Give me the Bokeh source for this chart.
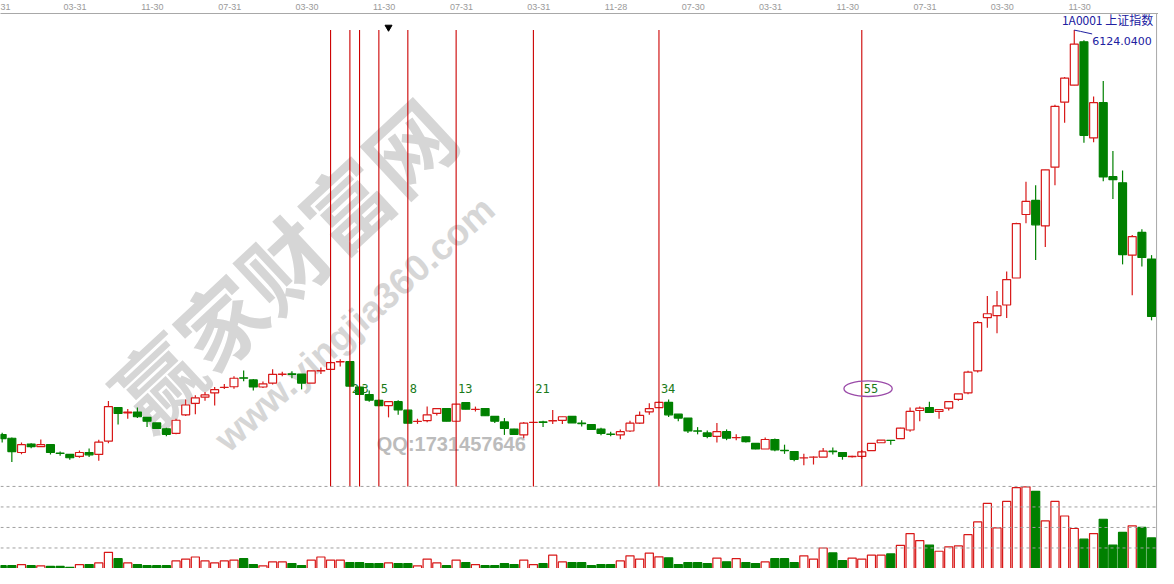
from bokeh.plotting import figure
from bokeh.models import Range1d, LinearAxis, FixedTicker, Span, ColumnDataSource
from bokeh.core.properties import value
from bokeh.embed import file_html
from bokeh.resources import INLINE

# ---------------- data (monthly, Jul 1998 .. Jun 2008) ----------------
opens = [1355, 1312, 1144, 1243, 1213, 1236, 1136, 1121, 1098, 1144,
         1121, 1277, 1674, 1611, 1620, 1558, 1493, 1424, 1370, 1588,
         1723, 1796, 1846, 1910, 1919, 2025, 2000, 1916, 1962, 2065,
         2071, 2069, 1962, 2106, 2123, 2213, 2215, 1916, 1827, 1758,
         1697, 1743, 1643, 1510, 1519, 1605, 1662, 1512, 1731, 1652,
         1662, 1570, 1504, 1420, 1351, 1498, 1504, 1515, 1523, 1570,
         1489, 1473, 1420, 1360, 1351, 1397, 1489, 1623, 1674, 1735,
         1596, 1550, 1398, 1374, 1335, 1389, 1318, 1328, 1251, 1185,
         1297, 1170, 1155, 1081, 1088, 1090, 1159, 1144, 1095, 1098,
         1166, 1259, 1288, 1308, 1409, 1639, 1674, 1628, 1666, 1769,
         1846, 2107, 2733, 2757, 2883, 3201, 3950, 4116, 3816, 4508,
         5275, 5475, 5986, 4853, 5268, 4396, 4323, 3471, 3739, 3425]

closes = [1308, 1155, 1236, 1213, 1236, 1144, 1132, 1082, 1144, 1116,
          1266, 1685, 1605, 1620, 1565, 1512, 1427, 1358, 1524, 1704,
          1789, 1823, 1884, 1913, 2019, 2019, 1916, 1954, 2065, 2069,
          2065, 1962, 2107, 2109, 2204, 2215, 1927, 1830, 1761, 1697,
          1743, 1646, 1489, 1512, 1588, 1662, 1512, 1715, 1654, 1654,
          1577, 1512, 1427, 1358, 1489, 1500, 1500, 1519, 1565, 1493,
          1485, 1416, 1370, 1358, 1389, 1489, 1581, 1662, 1735, 1588,
          1550, 1397, 1395, 1335, 1389, 1312, 1320, 1271, 1185, 1297,
          1174, 1167, 1063, 1082, 1090, 1159, 1155, 1098, 1098, 1151,
          1251, 1289, 1286, 1431, 1628, 1666, 1616, 1651, 1743, 1835,
          2092, 2676, 2780, 2872, 3183, 3843, 4104, 3828, 4477, 5225,
          5559, 5959, 4883, 5268, 4392, 4361, 3478, 3690, 3443, 2748]

highs = [1378, 1320, 1262, 1254, 1297, 1239, 1155, 1121, 1167, 1190,
         1294, 1750, 1677, 1658, 1674, 1558, 1493, 1435, 1542, 1769,
         1819, 1858, 1916, 1950, 2042, 2111, 2011, 1980, 2126, 2095,
         2103, 2069, 2107, 2146, 2222, 2242, 2218, 1931, 1876, 1769,
         1746, 1761, 1643, 1542, 1685, 1666, 1666, 1715, 1735, 1685,
         1666, 1573, 1550, 1424, 1504, 1504, 1519, 1646, 1565, 1570,
         1524, 1481, 1435, 1389, 1416, 1519, 1627, 1723, 1746, 1769,
         1596, 1550, 1443, 1404, 1493, 1416, 1358, 1331, 1251, 1320,
         1308, 1236, 1159, 1128, 1098, 1197, 1202, 1147, 1106, 1174,
         1251, 1289, 1289, 1435, 1674, 1685, 1743, 1654, 1743, 1835,
         2107, 2694, 2990, 3048, 3278, 3854, 4335, 4296, 4477, 5245,
         5571, 6124, 6005, 5341, 5525, 4699, 4468, 3708, 3777, 3471]

lows = [1262, 1032, 1124, 1193, 1213, 1121, 1105, 1059, 1082, 1090,
        1047, 1254, 1473, 1542, 1550, 1443, 1424, 1335, 1358, 1573,
        1596, 1754, 1697, 1893, 1896, 1985, 1876, 1904, 1946, 2042,
        2019, 1888, 1962, 2069, 2123, 2157, 1919, 1827, 1743, 1689,
        1558, 1588, 1489, 1481, 1500, 1581, 1512, 1512, 1654, 1627,
        1573, 1493, 1351, 1354, 1312, 1493, 1443, 1481, 1481, 1493,
        1450, 1412, 1347, 1335, 1301, 1385, 1481, 1588, 1674, 1562,
        1512, 1374, 1358, 1312, 1262, 1289, 1289, 1262, 1182, 1185,
        1159, 1128, 1040, 994, 1002, 1090, 1121, 1059, 1085, 1070,
        1166, 1259, 1236, 1308, 1389, 1512, 1616, 1542, 1639, 1754,
        1830, 2088, 2614, 2549, 2729, 3201, 3846, 3413, 3566, 4296,
        5033, 5475, 4796, 4803, 4342, 4134, 3362, 2998, 3336, 2702]

volumes = [14, 14, 19, 14, 13, 10, 10, 5, 19, 19,
           27, 79, 48, 27, 19, 14, 14, 14, 37, 46,
           56, 37, 27, 37, 41, 48, 19, 13, 32, 32,
           24, 14, 41, 56, 41, 41, 29, 29, 24, 24,
           27, 24, 24, 13, 46, 27, 14, 41, 29, 19,
           14, 14, 24, 19, 41, 19, 24, 65, 32, 29,
           29, 14, 19, 19, 37, 62, 46, 75, 57, 52,
           19, 29, 29, 24, 51, 33, 48, 29, 24, 32,
           48, 48, 29, 62, 46, 100, 76, 38, 51, 46,
           65, 65, 71, 113, 170, 136, 114, 84, 105, 110,
           165, 227, 317, 198, 327, 394, 398, 376, 232, 327,
           256, 195, 143, 170, 240, 114, 176, 208, 200, 149]

# first label is cut at the left edge in the original, only "31" shows
axis_months = [0.35, 8, 16, 24, 32, 40, 48, 56, 64, 72, 80, 88, 96, 104, 112]
axis_labels = ["31", "03-31", "11-30", "07-31", "03-30", "11-30", "07-31",
               "03-31", "11-28", "07-30", "03-31", "11-30", "07-31", "03-30", "11-30"]

fib_base = 34                      # May 2001
fib_steps = [0, 2, 3, 5, 8, 13, 21, 34, 55]
fib_labels = ["2", "3", "5", "8", "13", "21", "34", "55"]

vol_grid = [100, 200, 300, 400]
peak_value = "6124.0400"
title_text = "1A0001  上证指数"

# ---------------- styling ----------------
RED = "#d81818"
GREEN = "#008000"
W, H = 1158, 568
X_START, X_END = -0.174, 119.72

n = len(opens)
idx = list(range(n))
up = [c >= o for o, c in zip(opens, closes)]
src = ColumnDataSource(dict(
    x=idx,
    high=highs,
    low=lows,
    top=[max(o, c) for o, c in zip(opens, closes)],
    bot=[min(o, c) for o, c in zip(opens, closes)],
    vol=volumes,
    col=[RED if u else GREEN for u in up],
    fill=["white" if u else GREEN for u in up],
))

p = figure(width=W, height=H, output_backend="svg", toolbar_location=None,
           x_axis_type=None, y_axis_type=None,
           x_range=Range1d(X_START, X_END), y_range=Range1d(-224, 6320),
           min_border=0, background_fill_color="white", border_fill_color="white")
p.outline_line_color = None
p.extra_y_ranges = {"vol": Range1d(0, 2705)}

# top date axis (labels sit at the left edge of each month's candle)
ticks = [m if m < 1 else m - 0.45 for m in axis_months]
top_axis = LinearAxis(ticker=FixedTicker(ticks=ticks),
                      major_label_overrides={t: l for t, l in zip(ticks, axis_labels)})
top_axis.major_tick_line_color = None
top_axis.minor_tick_line_color = None
top_axis.major_tick_out = 0
top_axis.major_tick_in = 0
top_axis.major_label_standoff = 4
top_axis.axis_line_color = "#a8a8a8"
top_axis.major_label_text_color = "#9a9a9a"
top_axis.major_label_text_font = "Liberation Sans"
top_axis.major_label_text_font_size = "9px"
p.add_layout(top_axis, "above")

# watermark
p.text(x=[28.9], y=[3394], text=["赢家财富网"], angle=0.75,
       text_font=value("Noto Sans CJK SC"), text_font_size="86px", text_font_style="bold",
       text_color="#d6d6d6", text_align="center", text_baseline="middle")
p.text(x=[36.5], y=[2660], text=["www.yingjia360.com"], angle=0.73,
       text_font=value("Liberation Sans"), text_font_size="37px", text_font_style="bold",
       text_color="#d6d6d6", text_align="center", text_baseline="middle")
p.text(x=[46.5], y=[1239], text=["QQ:1731457646"],
       text_font=value("Liberation Sans"), text_font_size="20px", text_font_style="bold",
       text_color="#bcbcbc", text_align="center", text_baseline="middle")

# volume grid
for v in vol_grid:
    p.add_layout(Span(location=v, dimension="width", y_range_name="vol",
                      line_color="#a0a0a0", line_dash="3 3", line_width=1))

# volume bars
p.vbar(x="x", width=0.84, top="vol", bottom=0, y_range_name="vol",
       fill_color="fill", line_color="col", line_width=1.2, source=src)

# candles
p.segment(x0="x", y0="high", x1="x", y1="low", line_color="col", line_width=1.2, source=src)
p.vbar(x="x", width=0.82, top="top", bottom="bot", fill_color="fill",
       line_color="col", line_width=1.2, source=src)

# fibonacci time lines
fx = [fib_base + s for s in fib_steps]
p.segment(x0=fx, y0=[highs[111]] * len(fx), x1=fx, y1=[744] * len(fx),
          line_color="#cc0000", line_width=1.1)
p.text(x=[fib_base + s + 0.2 for s in fib_steps[1:]], y=[1896] * len(fib_labels),
       text=fib_labels, text_font=value("DejaVu Sans Mono"), text_font_size="12px",
       text_color="#1a7a1a", text_align="left", text_baseline="middle")
p.ellipse(x=[fib_base + 55.65], y=[1896], width=[5.0], height=[184],
          fill_color=None, line_color="#9a4aa8", line_width=1.3)

# marker triangle
p.scatter(x=[40], y=[6158], marker="inverted_triangle", size=7,
          fill_color="black", line_color="black")

# peak annotation
p.line(x=[111, 111.65, 112.85], y=[highs[111], highs[111] - 15, highs[111] - 45],
       line_color="#2020a0", line_width=1)
p.text(x=[112.85], y=[5997], text=[peak_value], text_font=value("DejaVu Sans"),
       text_font_size="11px", text_color="#2020a0", text_align="left", text_baseline="middle")
p.text(x=[119.45], y=[6251], text=[title_text], text_font=value("Noto Sans CJK SC"),
       text_font_size="12px", text_color="#2020a0", text_align="right", text_baseline="middle")

# right border
p.add_layout(Span(location=119.52, dimension="height", line_color="#a8a8a8", line_width=1))

open("out.html", "w").write(file_html(p, INLINE))
